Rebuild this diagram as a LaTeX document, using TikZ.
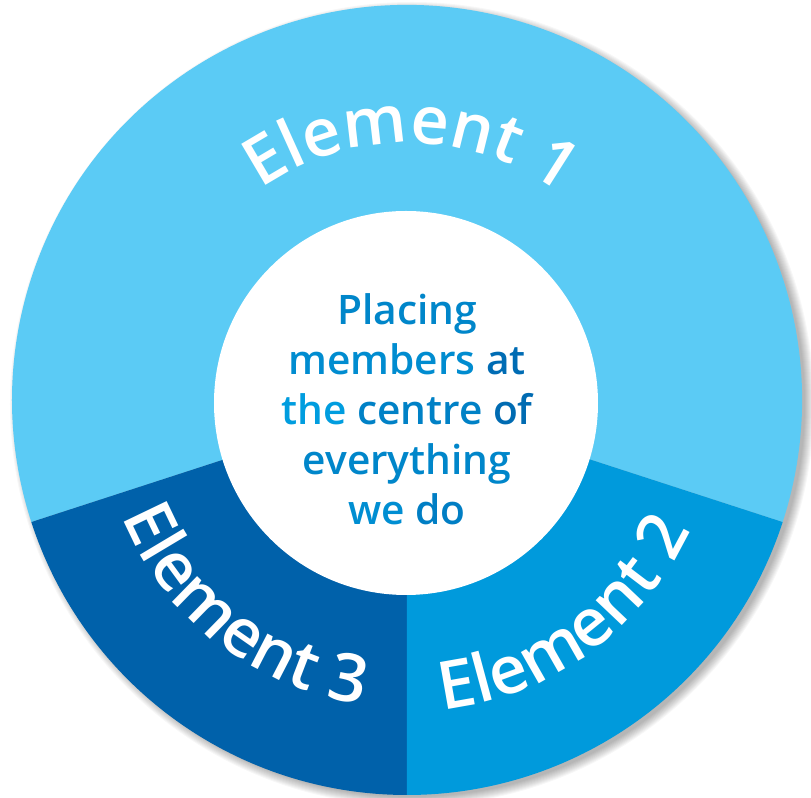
\documentclass[tikz,border=0pt]{standalone}
\usepackage{fontspec}
\setmainfont{Open Sans}[BoldFont={Open Sans Semibold}]
\usetikzlibrary{decorations.text}

\definecolor{elemone}{HTML}{5BCBF5}
\definecolor{elemtwo}{HTML}{009ADC}
\definecolor{elemthree}{HTML}{0061AA}
\definecolor{mottolight}{HTML}{00A5E6}
\definecolor{mottodark}{HTML}{0066AE}
% word coloured somewhere between light (0) and dark (100)
\newcommand{\mword}[2]{\textcolor{mottodark!#1!mottolight}{#2}}

\begin{document}
\begin{tikzpicture}[x=0.75pt,y=0.75pt]
  \tikzset{ringlabel/.style={decorate, decoration={text along path,
        text align=center, text color=white,
        text={|\fontsize{50}{50}\selectfont\bfseries|#1}}}}
  \useasboundingbox (-407,-398) rectangle (404,400);
  \fill[white] (-407,-398) rectangle (404,400);
  % soft shadow under the disc
  \foreach \s in {1,...,10}
    \fill[black,opacity=0.03] (5,-4) circle[radius=392+\s];
  % the three sectors
  \foreach \from/\to/\col in {-18/198/elemone,198/270/elemthree,270/342/elemtwo}
    \fill[\col] (0,0) -- (\from:395) arc[start angle=\from, end angle=\to, radius=395] -- cycle;
  \fill[white] (-1,-3) circle[radius=192];
  % labels round the ring
  \foreach \from/\to/\r/\txt in {165/13/257/Element 1,275/337/312/Element 2,200/264/308/Element 3}
    \path[ringlabel=\txt] (\from:\r) arc[start angle=\from, end angle=\to, radius=\r];
  \node[align=center, font=\bfseries\fontsize{30.5}{37.5}\selectfont] (motto) at (0,-9)
    {\mword{50}{Placing}\\
     \mword{40}{members} \mword{90}{at}\\
     \mword{12}{the} \mword{57}{centre} \mword{92}{of}\\
     \mword{49}{everything}\\
     \mword{36}{we} \mword{61}{do}};
\end{tikzpicture}
\end{document}
